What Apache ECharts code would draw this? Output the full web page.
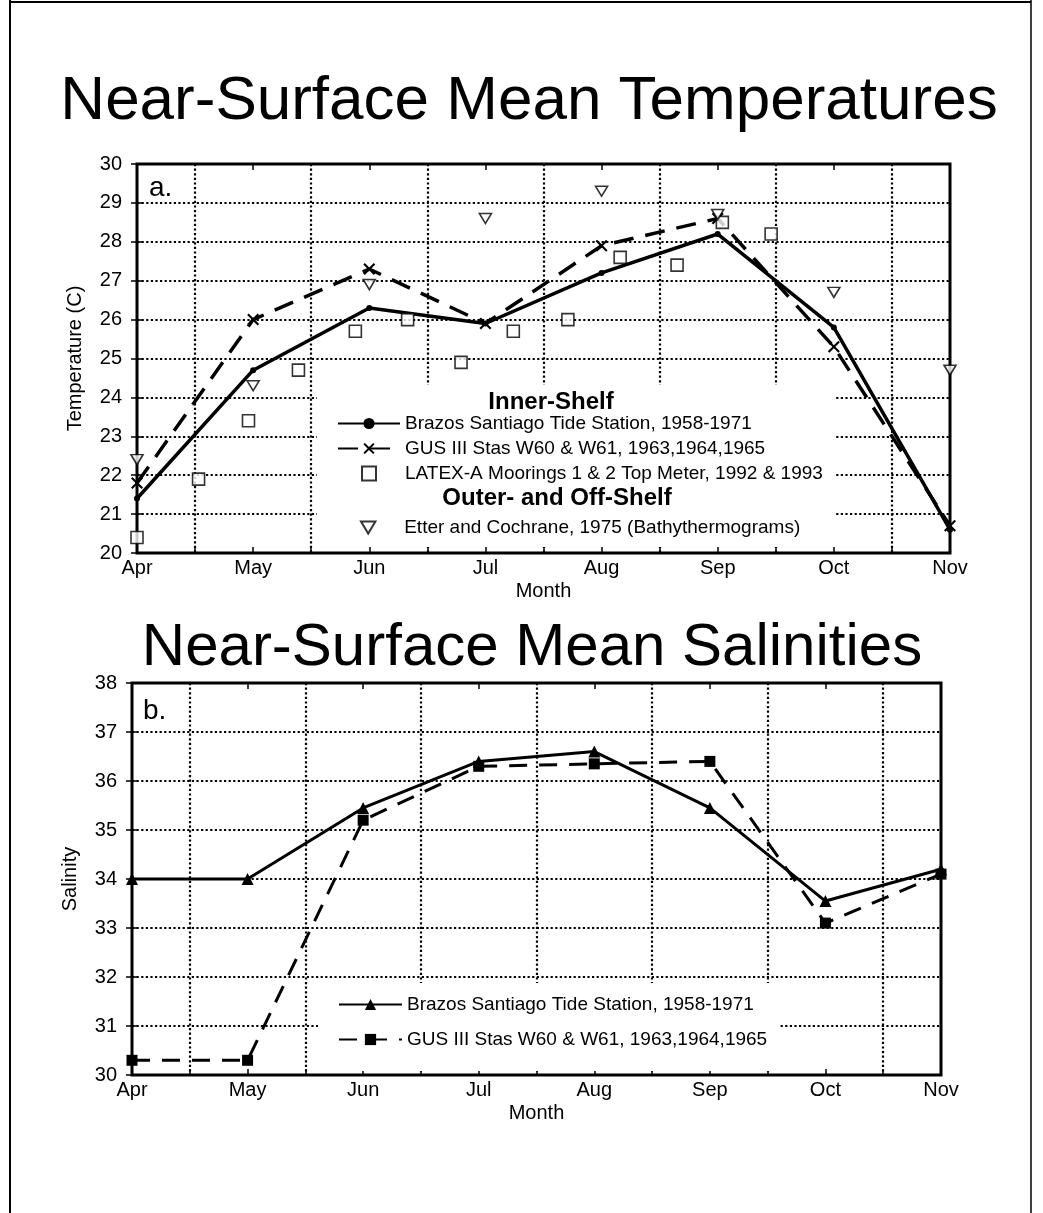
<!DOCTYPE html>
<html>
<head>
<meta charset="utf-8">
<script src="https://cdn.jsdelivr.net/npm/echarts@6/dist/echarts.min.js"></script>
<style>
  html, body { margin: 0; padding: 0; background: #fff; }
  #chart { width: 1043px; height: 1213px; }
</style>
</head>
<body>
<div id="chart"></div>
<script>
// month axis: Apr = 0 ... Nov = 7
const months = ["Apr", "May", "Jun", "Jul", "Aug", "Sep", "Oct", "Nov"];
const monthIdx = [0, 1, 2, 3, 4, 5, 6, 7];

// a. temperatures
const tempBrazos = [21.4, 24.7, 26.3, 25.9, 27.2, 28.2, 25.8, 20.6];
const tempGus = [21.8, 26.0, 27.3, 25.9, 27.9, 28.6, 25.3, 20.7];
const latexMonth = [0.0, 0.53, 0.96, 1.39, 1.88, 2.33, 2.79, 3.24, 3.71, 4.16, 4.65, 5.04, 5.46];
const latexTemp = [20.4, 21.9, 23.4, 24.7, 25.7, 26.0, 24.9, 25.7, 26.0, 27.6, 27.4, 28.5, 28.2];
const etterTemp = [22.4, 24.3, 26.9, 28.6, 29.3, 28.7, 26.7, 24.7];

// b. salinities
const salBrazos = [34.0, 34.0, 35.45, 36.4, 36.6, 35.45, 33.55, 34.2];
const salGus = [30.3, 30.3, 35.2, 36.3, 36.35, 36.4, 33.1, 34.1];

const FONT = "Liberation Sans, Arial, Helvetica, sans-serif";
const pairs = (xs, ys) => xs.map((x, i) => [x, ys[i]]);

const crossPath = "path://M1.5,0L6,4.5L10.5,0L12,1.5L7.5,6L12,10.5L10.5,12L6,7.5L1.5,12L0,10.5L4.5,6L0,1.5Z";
const triDownPath = "path://M0,0L12,0L6,10Z";
const squarePath = "path://M0,0L10,0L10,10L0,10Z";

const dotted = { color: "#000", width: 2.2, type: [2.2, 2.4] };

function xAxes(gridIndex) {
  return [
    {
      gridIndex, type: "value", min: 0, max: 7, interval: 1, position: "bottom",
      name: "Month", nameLocation: "middle", nameGap: 28,
      nameTextStyle: { color: "#000", fontSize: 20, fontFamily: FONT },
      axisLine: { show: false },
      axisTick: { show: true, inside: true, length: 6, lineStyle: { color: "#000", width: 1.5 } },
      minorTick: { show: true, splitNumber: 2, length: 6, lineStyle: { color: "#000", width: 1.5 } },
      axisLabel: { color: "#000", fontSize: 20, fontFamily: FONT, margin: 5, formatter: (v) => months[v] },
      splitLine: { show: false },
      minorSplitLine: { show: true, lineStyle: dotted },
    },
    {
      gridIndex, type: "value", min: 0, max: 7, interval: 1, position: "top",
      axisLine: { show: false },
      axisTick: { show: true, inside: true, length: 6, lineStyle: { color: "#000", width: 1.5 } },
      axisLabel: { show: false },
      splitLine: { show: false },
    },
  ];
}

function yAxes(gridIndex, min, max, name) {
  return [
    {
      gridIndex, type: "value", min, max, interval: 1, position: "left",
      name, nameLocation: "middle", nameGap: 52,
      nameTextStyle: { color: "#000", fontSize: 20, fontFamily: FONT },
      axisLine: { show: false },
      axisTick: { show: true, inside: true, length: 6, lineStyle: { color: "#000", width: 1.5 } },
      axisLabel: { color: "#000", fontSize: 20, fontFamily: FONT, margin: 15 },
      splitLine: { show: true, showMinLine: false, showMaxLine: false, lineStyle: dotted },
    },
    {
      gridIndex, type: "value", min, max, interval: 1, position: "right",
      axisLine: { show: false },
      axisTick: { show: true, inside: true, length: 6, lineStyle: { color: "#000", width: 1.5 } },
      axisLabel: { show: false },
      splitLine: { show: false },
    },
  ];
}

const legendText = { color: "#000", fontSize: 19, fontFamily: FONT };
const stripSuffix = (name) => name.replace(" (b)", "");

const option = {
  animation: false,
  backgroundColor: "#fff",
  grid: [
    { left: 137, top: 164, width: 813, height: 389, show: true, borderColor: "#000", borderWidth: 3, backgroundColor: "transparent" },
    { left: 132, top: 683, width: 809, height: 392, show: true, borderColor: "#000", borderWidth: 3, backgroundColor: "transparent" },
  ],
  xAxis: [...xAxes(0), ...xAxes(1)],
  yAxis: [...yAxes(0, 20, 30, "Temperature (C)"), ...yAxes(1, 30, 38, "Salinity")],
  legend: [
    {
      orient: "vertical", left: 332, top: 409, itemWidth: 62, itemHeight: 14, itemGap: 6,
      symbolKeepAspect: true, selectedMode: false, textStyle: legendText,
      data: ["Brazos Santiago Tide Station, 1958-1971", "GUS III Stas W60 & W61, 1963,1964,1965", "LATEX-A Moorings 1 & 2 Top Meter, 1992 & 1993"],
    },
    {
      orient: "vertical", left: 355, top: 513, itemWidth: 62, itemHeight: 12,
      symbolKeepAspect: true, selectedMode: false, textStyle: legendText,
      data: ["Etter and Cochrane, 1975 (Bathythermograms)"],
    },
    {
      orient: "vertical", left: 333, top: 990, itemWidth: 63, itemHeight: 14, itemGap: 16,
      selectedMode: false, textStyle: legendText, formatter: stripSuffix,
      data: ["Brazos Santiago Tide Station, 1958-1971 (b)", "GUS III Stas W60 & W61, 1963,1964,1965 (b)"],
    },
  ],
  graphic: [
    // page frame
    { type: "line", shape: { x1: 10, y1: 0, x2: 10, y2: 1213 }, style: { stroke: "#000", lineWidth: 2 } },
    { type: "line", shape: { x1: 10, y1: 2, x2: 1031, y2: 2 }, style: { stroke: "#000", lineWidth: 2 } },
    { type: "line", shape: { x1: 1031, y1: 0, x2: 1031, y2: 1213 }, style: { stroke: "#000", lineWidth: 1.5 } },
    // titles
    { type: "text", x: 529, y: 102, z: 5, style: { text: "Near-Surface Mean Temperatures", font: `62px ${FONT}`, fill: "#000", textAlign: "center", textVerticalAlign: "middle" } },
    { type: "text", x: 532, y: 648, z: 5, style: { text: "Near-Surface Mean Salinities", font: `60px ${FONT}`, fill: "#000", textAlign: "center", textVerticalAlign: "middle" } },
    { type: "text", x: 149, y: 188, z: 5, style: { text: "a.", font: `28px ${FONT}`, fill: "#000", textVerticalAlign: "middle" } },
    { type: "text", x: 143, y: 711, z: 5, style: { text: "b.", font: `28px ${FONT}`, fill: "#000", textVerticalAlign: "middle" } },
    // white boxes behind the legends
    { type: "rect", z: 1, shape: { x: 317, y: 385, width: 518, height: 162 }, style: { fill: "#fff" } },
    { type: "rect", z: 1, shape: { x: 318, y: 983, width: 461, height: 88 }, style: { fill: "#fff" } },
    // legend group headings
    { type: "text", x: 551, y: 402, z: 5, style: { text: "Inner-Shelf", font: `bold 24px ${FONT}`, fill: "#000", textAlign: "center", textVerticalAlign: "middle" } },
    { type: "text", x: 557, y: 498, z: 5, style: { text: "Outer- and Off-Shelf", font: `bold 24px ${FONT}`, fill: "#000", textAlign: "center", textVerticalAlign: "middle" } },
  ],
  series: [
    {
      name: "Brazos Santiago Tide Station, 1958-1971",
      type: "line", xAxisIndex: 0, yAxisIndex: 0, z: 3,
      data: pairs(monthIdx, tempBrazos),
      symbol: "circle", symbolSize: 6,
      lineStyle: { color: "#000", width: 3.5 },
      itemStyle: { color: "#000" },
    },
    {
      name: "GUS III Stas W60 & W61, 1963,1964,1965",
      type: "line", xAxisIndex: 0, yAxisIndex: 0, z: 3,
      data: pairs(monthIdx, tempGus),
      symbol: crossPath, symbolSize: 12,
      lineStyle: { color: "#000", width: 3.5, type: [20, 12] },
      itemStyle: { color: "#000" },
    },
    {
      name: "LATEX-A Moorings 1 & 2 Top Meter, 1992 & 1993",
      type: "scatter", xAxisIndex: 0, yAxisIndex: 0, z: 3,
      data: pairs(latexMonth, latexTemp),
      symbol: squarePath, symbolSize: 12,
      itemStyle: { color: "#fff", borderColor: "#000", borderWidth: 1.6 },
    },
    {
      name: "Etter and Cochrane, 1975 (Bathythermograms)",
      type: "scatter", xAxisIndex: 0, yAxisIndex: 0, z: 3,
      data: pairs(monthIdx, etterTemp),
      symbol: triDownPath, symbolSize: [12, 10],
      itemStyle: { color: "#fff", borderColor: "#000", borderWidth: 1.6 },
    },
    {
      name: "Brazos Santiago Tide Station, 1958-1971 (b)",
      type: "line", xAxisIndex: 2, yAxisIndex: 2, z: 3,
      data: pairs(monthIdx, salBrazos),
      symbol: "triangle", symbolSize: 12,
      lineStyle: { color: "#000", width: 3 },
      itemStyle: { color: "#000" },
    },
    {
      name: "GUS III Stas W60 & W61, 1963,1964,1965 (b)",
      type: "line", xAxisIndex: 2, yAxisIndex: 2, z: 3,
      data: pairs(monthIdx, salGus),
      symbol: "rect", symbolSize: 11,
      lineStyle: { color: "#000", width: 3, type: [18, 12] },
      itemStyle: { color: "#000" },
    },
  ],
};

const myChart = echarts.init(document.getElementById("chart"));
myChart.setOption(option);
</script>
</body>
</html>
